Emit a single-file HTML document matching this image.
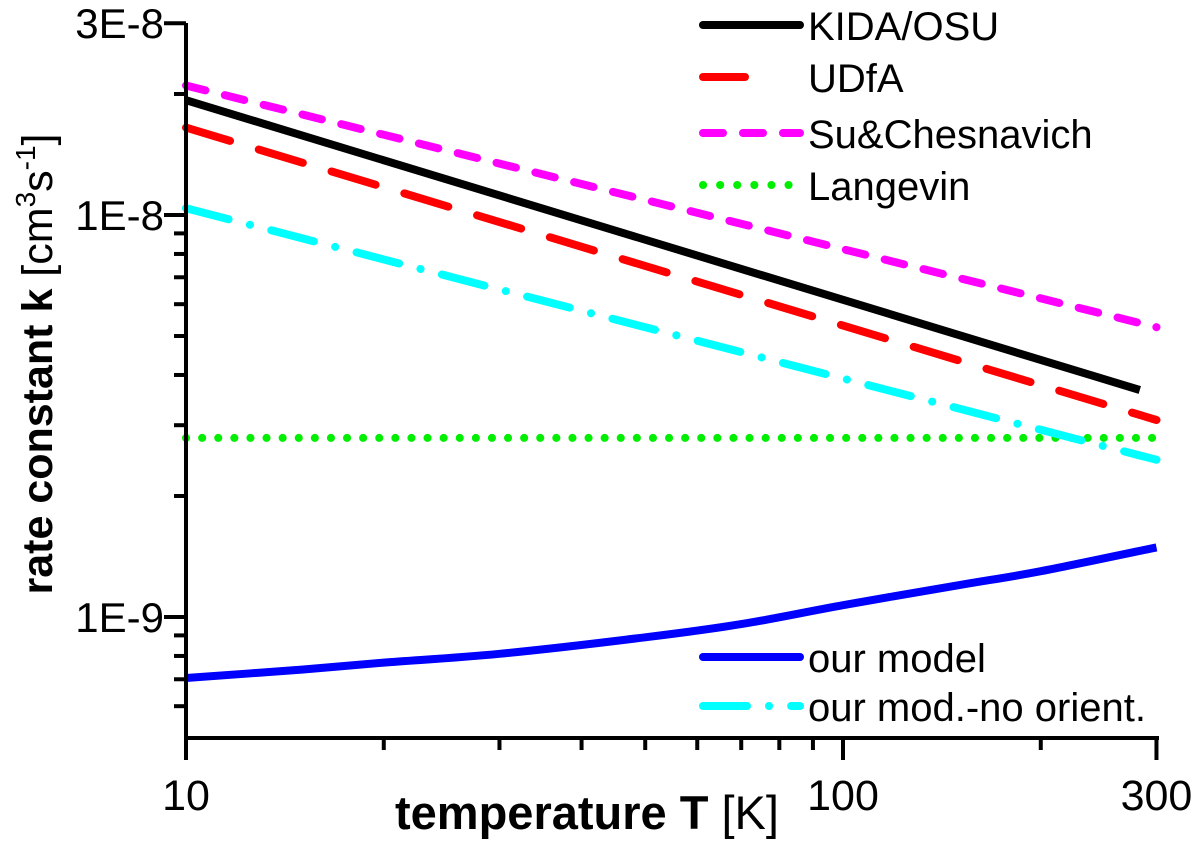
<!DOCTYPE html>
<html><head><meta charset="utf-8"><style>
html,body{margin:0;padding:0;background:#fff}
svg{display:block;font-family:"Liberation Sans",Arial,sans-serif}
</style></head><body>
<div style="position:relative;width:1200px;height:841px">
<svg id="chart" width="1200" height="841" viewBox="0 0 1200 841" style="position:absolute;left:0;top:0">
<g id="marks"></g>
<g id="axes"></g>
<g id="legend"></g>
<text x="587" y="829" font-size="47" text-anchor="middle"><tspan font-weight="bold">temperature T</tspan> [K]</text>
<text transform="translate(52,364) rotate(-90)" font-size="43" text-anchor="middle"><tspan font-weight="bold">rate constant k</tspan> [cm<tspan font-size="28" dy="-17">3</tspan><tspan dy="17">s</tspan><tspan font-size="28" dy="-17">-1</tspan><tspan dy="17">]</tspan></text>
</svg>
</div>
<script>
const xTicksMajor = [10, 100, 300];
const xTicksMinor = [20, 30, 40, 50, 60, 70, 80, 90, 200];
const yTicksMajor = [3e-8, 1e-8, 1e-9];
const yTickLabels = ["3E-8", "1E-8", "1E-9"];
const yTicksMinor = [2e-8, 2e-9, 3e-9, 4e-9, 5e-9, 6e-9, 7e-9, 8e-9, 9e-9, 6e-10, 7e-10, 8e-10, 9e-10];
const kidaT = [10, 283];
const kidaK = [1.93e-8, 3.67e-9];
const udfaT = [10, 300];
const udfaK = [1.65e-8, 3.09e-9];
const suT = [10, 300];
const suK = [2.1e-8, 5.26e-9];
const langT = [10, 300];
const langK = [2.79e-9, 2.79e-9];
const noOrT = [10, 300];
const noOrK = [1.04e-8, 2.46e-9];
const modelT = [10, 15, 20, 30, 50, 70, 100, 150, 200, 300];
const modelK = [7.05e-10, 7.4e-10, 7.7e-10, 8.1e-10, 8.9e-10, 9.6e-10, 1.07e-9, 1.2e-9, 1.3e-9, 1.49e-9];

const NS = "http://www.w3.org/2000/svg";
const X0 = 186, X1 = 1157, Y0 = 738, Ytop = 23;
function xs(t){ return X0 + (Math.log10(t) - 1) * 657; }
function ys(k){ return 617 - (Math.log10(k) + 9) * 402; }
function mk(tag, attrs, parent){ const e = document.createElementNS(NS, tag); for (const a in attrs) e.setAttribute(a, attrs[a]); parent.appendChild(e); return e; }
const marks = document.getElementById('marks'), axes = document.getElementById('axes'), legend = document.getElementById('legend');

function smoothPath(T, K){
  const p = T.map((t,i)=>[xs(t), ys(K[i])]);
  if (p.length < 3) return 'M'+p.map(q=>q[0].toFixed(1)+','+q[1].toFixed(1)).join(' L');
  let d = 'M'+p[0][0].toFixed(1)+','+p[0][1].toFixed(1);
  for (let i=0;i<p.length-1;i++){
    const p0=p[Math.max(0,i-1)], p1=p[i], p2=p[i+1], p3=p[Math.min(p.length-1,i+2)];
    const c1=[p1[0]+(p2[0]-p0[0])/6, p1[1]+(p2[1]-p0[1])/6];
    const c2=[p2[0]-(p3[0]-p1[0])/6, p2[1]-(p3[1]-p1[1])/6];
    d += ' C'+c1[0].toFixed(1)+','+c1[1].toFixed(1)+' '+c2[0].toFixed(1)+','+c2[1].toFixed(1)+' '+p2[0].toFixed(1)+','+p2[1].toFixed(1);
  }
  return d;
}
function series(T, K, color, dash, name){
  const p = mk('path', {d:smoothPath(T,K), fill:'none', stroke:color, 'stroke-width':8, 'stroke-dasharray':dash, 'stroke-linecap': dash==='none'?'butt':'round'}, marks);
  
  
}
series(langT, langK, '#00ee00', '0.1 16', 'langevin-line');
series(noOrT, noOrK, '#00ffff', '44 22 0.1 22', 'no-orient-line');
series(udfaT, udfaK, '#ff0000', '46 30', 'udfa-line');
series(suT, suK, '#ff00ff', '20 20', 'su-chesnavich-line');
series(kidaT, kidaK, '#000000', 'none', 'kida-osu-line');
series(modelT, modelK, '#0000ff', 'none', 'our-model-line');

let l = mk('line', {x1:X0, y1:Ytop, x2:X0, y2:Y0+2, stroke:'#000', 'stroke-width':4}, axes);
 
l = mk('line', {x1:X0-2, y1:Y0, x2:X1+2, y2:Y0, stroke:'#000', 'stroke-width':4}, axes);
 
xTicksMajor.forEach(t=>{
  const e = mk('line', {x1:xs(t), y1:Y0, x2:xs(t), y2:Y0+22, stroke:'#000', 'stroke-width':4}, axes);
   
  const tx = mk('text', {x:xs(t), y:Y0+72, 'font-size':43, 'text-anchor':'middle'}, axes);
  tx.textContent = t;
   
});
xTicksMinor.forEach(t=>{
  const e = mk('line', {x1:xs(t), y1:Y0, x2:xs(t), y2:Y0+12, stroke:'#000', 'stroke-width':4}, axes);
   
});
yTicksMajor.forEach((k,i)=>{
  const e = mk('line', {x1:X0-22, y1:ys(k), x2:X0, y2:ys(k), stroke:'#000', 'stroke-width':4}, axes);
   
  const tx = mk('text', {x:X0-22, y:ys(k)+15, 'font-size':42, 'text-anchor':'end'}, axes);
  tx.textContent = yTickLabels[i];
   
});
yTicksMinor.forEach(k=>{
  const e = mk('line', {x1:X0-12, y1:ys(k), x2:X0, y2:ys(k), stroke:'#000', 'stroke-width':4}, axes);
   
});

const legNames = ["KIDA/OSU","UDfA","Su&Chesnavich","Langevin","our model","our mod.-no orient."];
const legY = [25, 77, 133, 185, 657, 706];
const legCol = ['#000','#ff0000','#ff00ff','#00ee00','#0000ff','#00ffff'];
const legDash = ['none','none','20 20','0.1 17','none','44 22 0.1 22'];
const legX2 = [800, 745, 800, 790, 800, 800];
legNames.forEach((n,i)=>{
  const g = mk('g', {}, legend);
   
  mk('line', {x1:703, y1:legY[i], x2:legX2[i], y2:legY[i], stroke:legCol[i], 'stroke-width':8, 'stroke-linecap':'round', 'stroke-dasharray':legDash[i]}, g);
  const t = mk('text', {x:808, y:legY[i]+15, 'font-size':40}, g);
  t.textContent = n;
});
</script>
</body></html>
